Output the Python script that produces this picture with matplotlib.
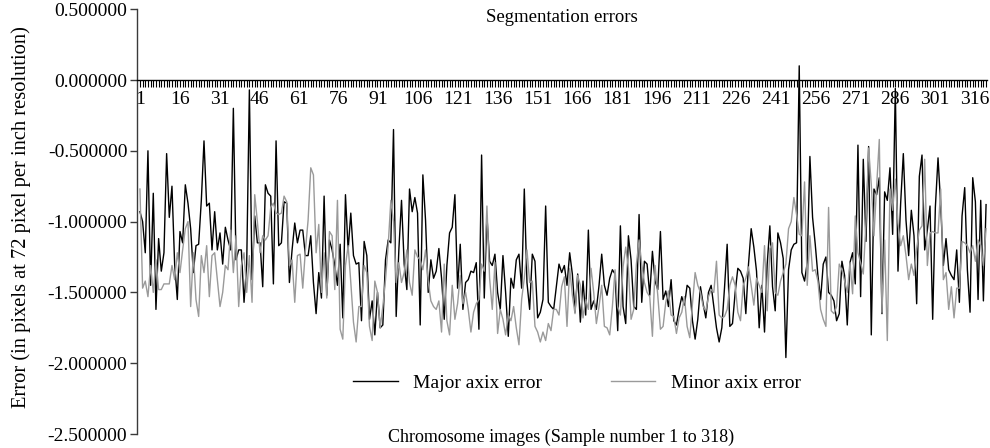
import numpy as np
import matplotlib
matplotlib.use('Agg')
import matplotlib.pyplot as plt
from matplotlib.transforms import ScaledTranslation

# Erreurs de segmentation (318 echantillons)
major_err = [
    -0.93, -1.0, -1.22, -0.5, -1.45, -0.8, -1.62, -1.12, -1.35, -1.22,
    -0.52, -0.97, -0.75, -1.3, -1.55, -1.07, -1.15, -0.74, -0.87, -1.05,
    -1.36, -1.17, -1.16, -0.85, -0.43, -0.89, -0.87, -1.2, -0.93, -1.2,
    -1.08, -1.3, -1.04, -1.13, -1.2, -0.2, -1.27, -1.2, -1.2, -1.57,
    -1.3, -0.07, -1.41, -0.96, -1.15, -1.15, -1.46, -0.74, -0.8, -0.82,
    -1.44, -0.43, -1.17,
    -1.15, -0.86, -0.87, -1.43, -1.2, -1.01, -1.15, -1.06, -1.06, -1.24,
    -1.24, -1.1, -1.43, -1.65, -1.36, -1.54, -0.82, -1.52, -1.13, -1.2,
    -1.31, -1.45, -1.16, -1.68, -0.81, -1.2,
    -0.94, -1.24, -1.3, -1.29, -1.7, -1.14, -1.24, -1.69, -1.56, -1.8,
    -1.5, -1.75, -1.73, -1.27, -1.13, -1.15, -0.35, -1.67, -1.2, -0.85,
    -1.3, -1.48, -0.77, -0.93, -0.83, -0.94,
    -1.73, -0.67, -0.99, -1.5, -1.27, -1.4, -1.35, -1.19, -1.4, -1.69,
    -1.31, -1.08, -1.04, -0.81, -1.47, -1.16, -1.62, -1.43, -1.41, -1.35,
    -1.36, -1.29, -1.76, -0.53, -1.54, -0.96, -1.28, -1.31, -1.23, -1.5,
    -1.62, -1.24, -1.5, -1.81, -1.4, -1.47, -1.27, -1.23, -1.47, -0.77,
    -1.43, -1.62, -1.23, -1.28, -1.68, -1.64, -1.55, -0.89, -1.57, -1.6,
    -1.62, -1.46, -1.3,
    -1.36, -1.31, -1.45, -1.22, -1.37, -1.64, -1.37, -1.71, -1.42, -1.66,
    -1.06, -1.62, -1.56, -1.62, -1.45, -1.23, -1.45, -1.52, -1.4, -1.34,
    -1.37, -1.77, -1.03, -1.6, -1.72, -1.1,
    -1.27, -1.6, -1.62, -0.95, -1.57, -1.28, -1.3, -1.52, -1.21, -1.42,
    -1.48, -1.07, -1.55, -1.49, -1.6, -1.41, -1.7, -1.73, -1.62, -1.53,
    -1.59, -1.45, -1.47, -1.7, -1.83, -1.69,
    -1.46, -1.58, -1.68, -1.5, -1.45, -1.6, -1.75, -1.85, -1.75, -1.47,
    -1.16, -1.74, -1.72, -1.5, -1.33, -1.35, -1.4, -1.65, -1.3, -1.05,
    -1.18, -1.35, -1.75, -1.45, -1.78, -1.3, -1.03, -1.46, -1.63, -1.08,
    -1.15, -1.26, -1.96, -1.34, -1.2, -1.16, -1.15, 0.1, -1.36, -1.42,
    -1.29, -0.54, -0.97, -1.16, -1.38, -1.55, -1.3, -1.25, -1.5, -1.52,
    -1.56, -1.7, -1.65,
    -1.28, -1.38, -1.73, -1.29, -1.22, -1.44, -0.46, -1.53, -0.56, -1.14,
    -0.47, -1.8, -0.77, -0.81, -0.69, -1.65, -0.79, -0.85, -0.62, -1.09,
    -0.06, -1.35, -0.87, -0.52, -0.99, -1.24, -0.92, -1.1, -1.58, -0.68,
    -0.53, -1.2, -1.06, -0.89, -1.69, -0.9, -0.55, -0.88, -1.31, -1.12,
    -1.34, -1.38, -1.41, -1.2, -1.57, -0.96, -0.76, -1.34, -1.64, -0.69,
    -0.86, -1.55, -0.85, -1.56, -0.88,
]

minor_err = [
    -0.77, -1.47, -1.42, -1.53, -1.31, -1.5, -1.27, -1.48, -1.48, -1.44,
    -1.44, -1.44, -1.31, -1.41, -1.22, -1.36, -1.2, -1.05, -1.0, -1.6,
    -1.22, -1.55, -1.67, -1.24, -1.36, -1.17, -1.53, -1.24, -1.22, -1.41,
    -1.6, -1.5, -1.31, -1.34, -1.06, -1.36, -1.1, -1.6, -1.31, -1.22,
    -1.5, -1.24, -1.57, -0.81, -1.0, -1.22, -1.1, -1.13, -1.1, -0.9,
    -0.87, -0.94, -0.95,
    -0.94, -0.82, -0.86, -1.31, -1.27, -1.57, -1.24, -1.23, -1.47, -1.2,
    -0.99, -0.62, -0.67, -1.22, -1.02, -1.5, -1.22, -1.54, -1.07, -1.1,
    -1.48, -0.85, -1.76, -1.83, -1.31, -1.17,
    -1.43, -1.71, -1.85, -1.6, -1.6, -1.31, -1.36, -1.74, -1.84, -1.42,
    -1.5, -1.75, -1.6, -1.41, -1.17, -0.85, -1.0, -1.43, -1.29, -1.43,
    -1.36, -1.2, -1.43, -1.52, -1.2, -1.25,
    -1.27, -1.34, -1.2, -1.42, -1.56, -1.6, -1.62, -1.56, -1.78, -1.3,
    -1.7, -1.8, -1.45, -1.69, -1.58, -1.38, -1.58, -1.5, -1.62, -1.78,
    -1.64, -1.58, -1.55, -1.3, -1.35, -0.89, -1.4, -1.62, -1.29, -1.79,
    -1.62, -1.69, -1.8, -1.66, -1.7, -1.6, -1.75, -1.87, -1.55, -1.4,
    -1.2, -1.43, -1.42, -1.74, -1.78, -1.85, -1.78, -1.84, -1.72, -1.77,
    -1.62, -1.62, -1.66,
    -1.46, -1.39, -1.74, -1.33, -1.52, -1.65, -1.38, -1.45, -1.68, -1.55,
    -1.62, -1.33, -1.5, -1.72, -1.6, -1.45, -1.74, -1.75, -1.8, -1.6,
    -1.34, -1.6, -1.66, -1.32, -1.18, -1.33,
    -1.69, -1.62, -1.3, -1.13, -1.3, -1.43, -1.5, -1.53, -1.81, -1.31,
    -1.52, -1.76, -1.74, -1.57, -1.49, -1.66, -1.67, -1.79, -1.68, -1.64,
    -1.53, -1.74, -1.82, -1.58, -1.36, -1.45,
    -1.5, -1.6, -1.63, -1.53, -1.48, -1.5, -1.28, -1.66, -1.68, -1.67,
    -1.62, -1.45, -1.39, -1.45, -1.64, -1.7, -1.45, -1.4, -1.32, -1.45,
    -1.59, -1.4, -1.45, -1.5, -1.17, -1.63, -1.19, -1.15, -1.5, -1.52,
    -1.42, -1.36, -1.3, -1.05, -1.0, -0.83, -0.95, -1.09, -1.1, -0.72,
    -1.45, -1.1, -1.35, -1.34, -1.42, -1.62, -1.69, -1.74, -0.9, -1.63,
    -1.65, -1.6, -1.3,
    -1.34, -1.42, -1.5, -1.29, -1.51, -0.96, -1.22, -1.29, -1.37, -1.01,
    -0.48, -0.74, -1.1, -0.75, -0.42, -1.64, -1.13, -1.84, -0.77, -0.92,
    -0.7, -1.01, -1.17, -1.1, -1.24, -1.41, -1.3, -1.38, -1.19, -1.06,
    -1.03, -0.56, -1.31, -1.08, -1.07, -1.08, -1.08, -0.77, -1.41, -1.36,
    -1.62, -1.46, -1.68, -1.47, -1.47, -1.14, -1.15, -1.17, -1.22, -1.17,
    -1.28, -1.13, -1.17, -1.31, -1.05,
]

samples = np.arange(1, len(major_err) + 1)
label_samples = list(range(1, 319, 15))
y_ticks = [-2.5, -2.0, -1.5, -1.0, -0.5, 0.0, 0.5]

plt.rcParams['font.family'] = ['Liberation Serif', 'DejaVu Serif']

W, H = 990, 448
fig = plt.figure(figsize=(W / 100, H / 100), dpi=100)
# axes: 137 -> 987 px en x, -2.5 a 434 px et 0 a 80 px en y
ax = fig.add_axes([137 / W, 14 / H, 850 / W, (434 - 9.2) / H])

ax.plot(samples, major_err, color='black', lw=1.0, label='Major axix error')
ax.plot(samples, minor_err, color='#9a9a9a', lw=1.0, label='Minor axix error')

ax.set_xlim(-0.1, 318.35)
ax.set_ylim(-2.5, 0.5)

# axe des x sur y = 0
for s in ['top', 'right']:
    ax.spines[s].set_visible(False)
ax.spines['bottom'].set_position(('data', 0))
ax.spines['bottom'].set_color('black')
ax.spines['bottom'].set_linewidth(1.0)
ax.spines['left'].set_color('#3a3a3a')
ax.spines['left'].set_linewidth(1.0)

ax.set_xticks(samples)
ax.set_xticklabels([str(s) if s in label_samples else '' for s in samples])
ax.tick_params(axis='x', direction='out', length=5, width=0.8, pad=3,
               labelsize=14, color='black')
# petit decalage des etiquettes vers la gauche (la derniere sortait du cadre)
for s, lab in zip(samples, ax.get_xticklabels()):
    dx = -6.0 * (s - 1) / 315.0
    lab.set_transform(lab.get_transform() + ScaledTranslation(dx / 100, 0, fig.dpi_scale_trans))

ax.set_yticks(y_ticks)
ax.set_yticklabels([f"{v:.6f}" for v in y_ticks])
ax.tick_params(axis='y', direction='out', length=5, width=1.0, pad=2,
               labelsize=14, color='#3a3a3a')

ax.set_ylabel('Error (in pixels at 72 pixel per inch resolution)', fontsize=14.8)
ax.yaxis.set_label_coords(-0.125, 0.51)

fig.text(562 / W, 1 - 18 / H, 'Segmentation errors', ha='center', va='center',
         fontsize=13.5)
fig.text(561 / W, 1 - 437 / H, 'Chromosome images (Sample number 1 to 318)',
         ha='center', va='center', fontsize=13)

leg = ax.legend(loc='center', bbox_to_anchor=(577 / W, 1 - 383 / H),
                bbox_transform=fig.transFigure, ncol=2, frameon=False,
                fontsize=14, handlelength=2.3, handletextpad=0.8,
                columnspacing=3.5)

fig.savefig('out.png', dpi=100)
